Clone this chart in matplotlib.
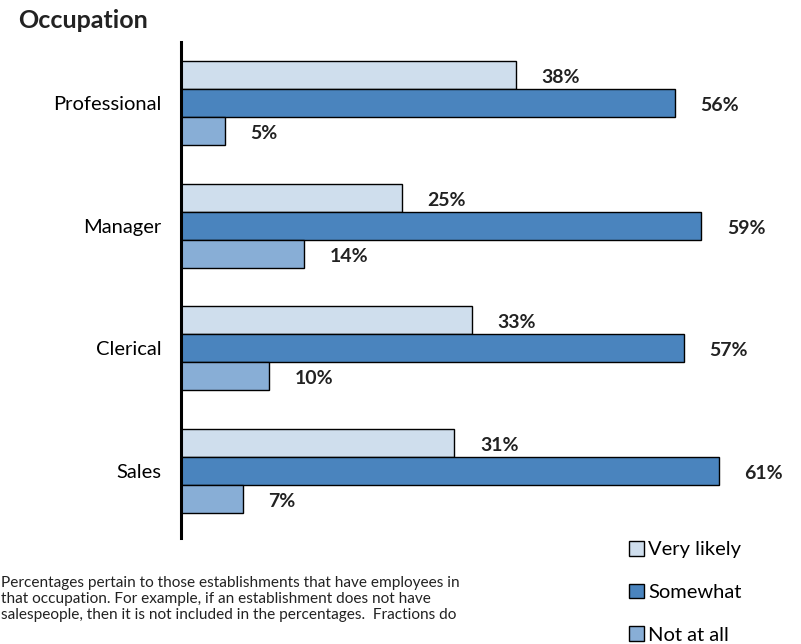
import matplotlib
matplotlib.use("Agg")
import matplotlib.pyplot as plt
from matplotlib.patches import Patch

plt.rcParams['font.family'] = ['Lato', 'DejaVu Sans']

categories = ["Professional", "Manager", "Clerical", "Sales"]
series_names = ["Very likely", "Somewhat", "Not at all"]
very_likely = [38, 25, 33, 31]
somewhat = [56, 59, 57, 61]
not_at_all = [5, 14, 10, 7]
value_labels = [["38%", "25%", "33%", "31%"],
                ["56%", "59%", "57%", "61%"],
                ["5%", "14%", "10%", "7%"]]
colors = ["#cfdeed", "#4a84be", "#88aed6"]
footnote_lines = ["Percentages pertain to those establishments that have employees in",
                  "that occupation. For example, if an establishment does not have",
                  "salespeople, then it is not included in the percentages.  Fractions do"]

W, H = 801, 644
fig = plt.figure(figsize=(W / 100, H / 100), dpi=100)
ax = fig.add_axes([181 / W, 1 - 538 / H, 600 / W, 496 / H])

n = len(categories)
centers = [n - 1 - i for i in range(n)]
bh = 0.228
offsets = [bh, 0, -bh]
all_series = [very_likely, somewhat, not_at_all]
for s, (vals, off, col, labs) in enumerate(zip(all_series, offsets, colors, value_labels)):
    ys = [c + off for c in centers]
    ax.barh(ys, vals, height=bh, color=col, edgecolor="black", linewidth=1.0,
            label=series_names[s])
    for y, v, lab in zip(ys, vals, labs):
        ax.text(v + 2.9, y - 0.02, lab, ha="left", va="center", fontsize=14,
                fontweight="bold", color="#222222")

ax.set_xlim(0, 600 / 8.82)
ax.set_ylim(-0.545, 3.496)
ax.set_yticks(centers)
ax.set_yticklabels(categories, fontsize=14.5)
ax.tick_params(axis="y", length=0, pad=14)
ax.set_xticks([])
for sp in ["top", "right", "bottom"]:
    ax.spines[sp].set_visible(False)
ax.spines["left"].set_linewidth(2.2)

fig.text(18 / W, 1 - 21 / H, "Occupation", fontsize=18, fontweight="bold",
         ha="left", va="center", color="#222222")

handles = [Patch(facecolor=c, edgecolor="black", linewidth=1.0) for c in colors]
fig.legend(handles, series_names, loc="upper left",
           bbox_to_anchor=(621 / W, 1 - 533 / H), frameon=False,
           fontsize=14.5, handlelength=0.75, handleheight=0.75,
           handletextpad=0.2, labelspacing=1.25, borderaxespad=0)

for i, line in enumerate(footnote_lines):
    fig.text(1 / W, 1 - (583 + 16 * i) / H, line, fontsize=11.1, ha="left",
             va="center", color="#222222")

fig.savefig("out.png", dpi=100)
